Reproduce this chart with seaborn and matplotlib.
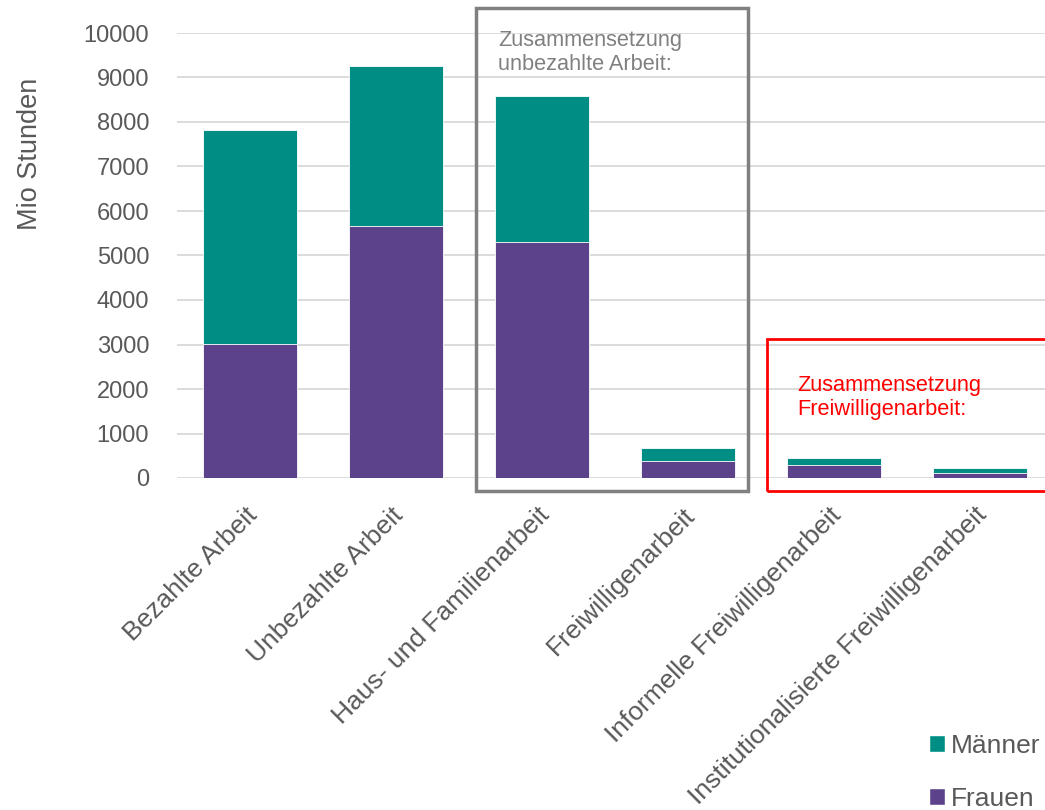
import numpy as np
import pandas as pd
import matplotlib.pyplot as plt
import seaborn as sns
from matplotlib.patches import Patch, Rectangle
from matplotlib.transforms import ScaledTranslation

sns.set_theme(style="white")
plt.rcParams['font.family'] = ['Liberation Sans', 'DejaVu Sans']

# Daten (Mio Stunden)
kategorien = ['Bezahlte Arbeit', 'Unbezahlte Arbeit', 'Haus- und Familienarbeit',
              'Freiwilligenarbeit', 'Informelle Freiwilligenarbeit',
              'Institutionalisierte Freiwilligenarbeit']
frauen = [3010, 5660, 5300, 380, 285, 105]
maenner = [4810, 3600, 3280, 295, 165, 120]
y_ticks = [0, 1000, 2000, 3000, 4000, 5000, 6000, 7000, 8000, 9000, 10000]

teal = '#008E84'
lila = '#5B428B'
grau = '#595959'

df = pd.DataFrame({'kategorie': kategorien, 'frauen': frauen, 'maenner': maenner})
df['gesamt'] = df['frauen'] + df['maenner']

fig = plt.figure(figsize=(10.45, 8.1), dpi=100)
ax = fig.add_axes([177 / 1045, 332 / 810, 876 / 1045, 445 / 810])

sns.barplot(data=df, x='kategorie', y='gesamt', color=teal, width=0.64,
            edgecolor='white', linewidth=0.6, saturation=1, ax=ax)
sns.barplot(data=df, x='kategorie', y='frauen', color=lila, width=0.64,
            edgecolor='white', linewidth=0.6, saturation=1, ax=ax)

ax.set_ylim(0, 10000)
ax.set_xlim(-0.5, len(kategorien) - 0.5)
ax.set_yticks(y_ticks)
ax.yaxis.grid(True, color='#d9d9d9', linewidth=1.3)
ax.set_axisbelow(True)
for s in ax.spines.values():
    s.set_visible(False)

ax.tick_params(axis='y', length=0, pad=20, labelsize=17, labelcolor=grau)
ax.tick_params(axis='x', length=0, pad=18, labelsize=19, labelcolor=grau)
verschiebung = ScaledTranslation(-5 / 100, 0, fig.dpi_scale_trans)
for lbl in ax.get_xticklabels():
    lbl.set_rotation(45)
    lbl.set_ha('right')
    lbl.set_rotation_mode('anchor')
    lbl.set_transform(lbl.get_transform() + verschiebung)
ax.set_xlabel('')
ax.set_ylabel('')
fig.text(30 / 1045, 1 - 154 / 810, 'Mio Stunden', rotation=90, ha='center', va='center',
         fontsize=19.5, color=grau)

# Rahmen und Beschriftungen
fig.patches.append(Rectangle((476 / 1045, 319 / 810), 272 / 1045, 483 / 810,
                             transform=fig.transFigure, fill=False,
                             edgecolor='#808080', linewidth=2.5, clip_on=False))
fig.patches.append(Rectangle((767 / 1045, 319 / 810), 300 / 1045, 152 / 810,
                             transform=fig.transFigure, fill=False,
                             edgecolor='red', linewidth=2, clip_on=False))
fig.text(498 / 1045, 1 - 30 / 810, 'Zusammensetzung\nunbezahlte Arbeit:', ha='left', va='top',
         fontsize=15.7, color='#808080', linespacing=1.2)
fig.text(797 / 1045, 1 - 375 / 810, 'Zusammensetzung\nFreiwilligenarbeit:', ha='left', va='top',
         fontsize=15.7, color='red', linespacing=1.2)

handles = [Patch(facecolor=teal, label='Männer'), Patch(facecolor=lila, label='Frauen')]
fig.legend(handles=handles, loc='upper left', bbox_to_anchor=(929 / 1045, 1 - 734 / 810),
           frameon=False, fontsize=19, labelcolor=grau, handlelength=0.6, handleheight=0.6,
           handletextpad=0.22, labelspacing=1.1, borderaxespad=0, borderpad=0)

plt.savefig('out.png', dpi=100)
